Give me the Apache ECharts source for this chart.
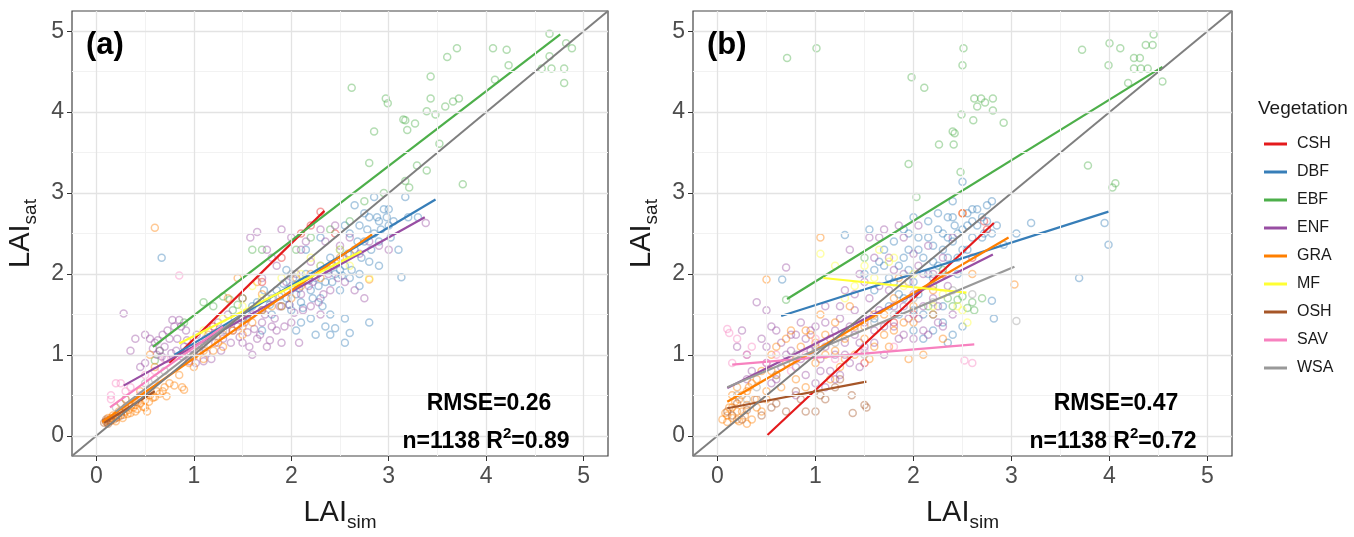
<!DOCTYPE html>
<html><head><meta charset="utf-8">
<script src="https://cdn.jsdelivr.net/npm/echarts@6/dist/echarts.min.js"></script>
<style>html,body{margin:0;padding:0;background:#fff}#c{width:1354px;height:537px}</style>
</head><body><div id="c"></div><script>
const categories = ['CSH','DBF','EBF','ENF','GRA','MF','OSH','SAV','WSA'];
const colors = ['#E41A1C','#377EB8','#4DAF4A','#984EA3','#FF7F00','#FFFF33','#A65628','#F781BF','#999999'];
const axisMin = -0.25, axisMax = 5.25;
const majorTicks = [0,1,2,3,4,5];
const minorTicks = [0.5,1.5,2.5,3.5,4.5];

// Panel (a) points
const a_CSH = [[2.3,2.77],[2.2,2.6],[1.9,2.2],[1.5,1.7],[1.2,1.35],[2.45,2.5],[1.7,1.9],[2.1,2.5]];
const a_DBF = [[0.67,2.2],[1.5,1.45],[1.6,1.6],[1.7,1.55],[1.75,1.7],[1.8,1.5],[1.85,1.8],[1.9,1.6],[1.95,1.7],[2.0,1.85],[2.0,1.55],[2.05,1.75],[2.1,1.9],[2.1,1.65],[2.15,2.0],[2.2,1.8],[2.2,1.45],[2.25,1.95],[2.25,1.25],[2.3,2.1],[2.3,1.7],[2.35,1.9],[2.4,2.2],[2.4,1.5],[2.45,2.0],[2.45,1.33],[2.5,2.3],[2.5,1.8],[2.55,2.1],[2.55,1.45],[2.6,2.5],[2.6,1.95],[2.6,1.27],[2.65,2.3],[2.7,2.6],[2.7,2.0],[2.75,2.75],[2.75,2.4],[2.8,2.7],[2.8,2.15],[2.8,1.4],[2.85,2.5],[2.9,2.65],[2.9,2.4],[2.95,2.8],[3.0,2.6],[3.0,2.8],[3.05,2.65],[3.13,1.96],[3.17,2.95],[3.2,2.7],[3.3,2.7],[2.85,2.95],[2.65,2.85],[2.55,2.6],[2.3,2.45],[2.15,2.3],[1.95,2.05],[2.35,1.35],[2.05,1.3],[2.1,1.4],[1.7,1.3],[2.5,2.05],[2.7,1.85],[2.9,2.1],[3.1,2.3],[1.55,1.5],[1.65,1.65],[1.72,1.8],[1.78,1.62],[1.88,1.72],[1.92,1.88],[1.98,1.62],[2.02,1.95],[2.08,1.82],[2.12,1.58],[2.18,1.92],[2.22,1.7],[2.28,1.85],[2.32,1.6],[2.38,2.05],[2.42,1.9],[2.48,2.15],[2.52,1.98],[2.58,2.25],[2.62,2.05],[2.68,2.4],[2.72,2.2],[2.78,2.55],[2.82,2.3],[2.88,2.7],[2.92,2.55],[2.98,2.7],[3.02,2.45],[2.4,1.25],[2.55,1.15]];
const a_EBF = [[4.65,4.97],[4.82,4.85],[4.88,4.79],[4.65,4.69],[4.57,4.54],[4.67,4.54],[4.8,4.54],[4.8,4.36],[4.07,4.79],[4.21,4.77],[3.7,4.79],[3.6,4.68],[4.23,4.58],[4.09,4.4],[3.43,4.44],[3.43,4.17],[3.58,4.07],[3.66,4.13],[3.72,4.17],[3.48,3.97],[3.39,4.01],[2.62,4.3],[2.97,4.17],[2.99,4.11],[3.15,3.91],[3.17,3.9],[3.19,3.78],[3.27,3.86],[2.85,3.76],[3.52,3.61],[3.29,3.34],[3.39,3.28],[2.8,3.37],[3.21,3.07],[3.76,3.11],[3.17,3.15],[0.6,0.93],[0.65,1.05],[0.9,1.4],[1.1,1.65],[1.2,1.6],[1.3,1.72],[1.37,1.68],[1.45,1.62],[1.5,1.7],[1.7,2.3],[1.6,2.3],[2.05,2.3],[2.2,2.45],[2.4,2.55],[2.6,2.65],[2.75,2.9],[1.4,1.55],[2.95,3.0]];
const a_ENF = [[0.28,1.51],[0.45,0.85],[0.5,0.9],[0.55,1.2],[0.6,1.15],[0.62,1.0],[0.65,1.05],[0.68,1.25],[0.7,1.1],[0.72,0.95],[0.75,1.2],[0.78,1.43],[0.8,1.35],[0.82,1.05],[0.85,1.43],[0.88,0.98],[0.9,1.1],[0.92,1.3],[0.95,0.92],[1.0,1.0],[1.02,0.9],[1.05,1.05],[1.1,0.92],[1.12,1.2],[1.15,1.3],[1.2,1.25],[1.25,1.4],[1.3,1.2],[1.35,1.5],[1.4,1.3],[1.45,1.35],[1.5,1.15],[1.55,1.28],[1.6,1.5],[1.65,1.2],[1.7,1.4],[1.75,1.1],[1.8,1.35],[1.85,1.3],[1.9,1.15],[1.6,1.0],[1.58,2.45],[1.65,2.52],[1.75,2.3],[1.9,2.55],[2.0,2.45],[2.1,2.3],[2.15,2.4],[2.2,2.15],[2.3,2.55],[2.35,2.4],[2.45,2.6],[2.5,2.35],[2.6,2.45],[2.7,2.25],[2.8,2.4],[2.9,2.35],[3.0,2.3],[3.38,2.63],[2.1,1.75],[2.2,1.6],[2.3,1.5],[2.4,1.8],[2.0,1.4],[1.95,1.9],[2.55,1.9],[2.65,1.8],[2.75,1.7],[2.05,2.0],[1.85,2.1],[1.8,2.2],[1.7,1.95],[0.4,1.2],[0.5,1.25],[0.35,1.05],[0.58,1.08],[0.63,1.18],[0.67,0.98],[0.73,1.3],[0.77,1.02],[0.83,1.2],[0.87,1.35],[0.93,1.18],[0.97,1.08],[1.03,1.25],[1.08,1.12],[1.13,1.02],[1.18,0.95],[1.22,1.15],[1.28,1.05],[1.33,1.3],[1.38,1.15],[1.42,1.45],[1.47,1.22],[1.52,1.4],[1.57,1.1],[1.62,1.32],[1.68,1.25],[1.73,1.5],[1.78,1.18],[1.83,1.45],[1.88,1.6],[1.93,1.35],[1.98,1.62],[2.03,1.52],[2.08,1.15],[2.12,1.55],[2.18,1.85],[2.22,1.9],[2.28,1.65],[2.33,1.75],[2.38,2.0],[2.43,2.1],[2.48,1.95],[2.53,2.2]];
const a_GRA = [[0.10,0.17],[0.12,0.19],[0.14,0.18],[0.15,0.22],[0.18,0.2],[0.2,0.25],[0.22,0.23],[0.25,0.28],[0.28,0.26],[0.3,0.3],[0.33,0.32],[0.35,0.28],[0.38,0.35],[0.4,0.38],[0.42,0.33],[0.45,0.4],[0.48,0.36],[0.5,0.44],[0.52,0.3],[0.55,0.5],[0.58,0.47],[0.62,0.55],[0.65,0.52],[0.7,0.6],[0.72,0.49],[0.8,0.62],[0.9,0.57],[0.88,0.6],[0.6,2.57],[0.95,0.9],[1.0,0.98],[1.05,1.1],[1.1,0.95],[1.2,1.05],[1.25,1.15],[1.3,1.1],[1.4,1.3],[1.5,1.25],[1.55,1.45],[1.6,1.4],[1.65,1.9],[1.7,1.55],[1.8,1.6],[1.9,1.75],[2.0,1.7],[2.1,1.85],[2.2,2.0],[2.3,1.95],[2.4,2.1],[2.5,2.2],[2.6,2.25],[2.8,1.93],[0.55,1.0],[0.6,0.85],[1.15,1.25],[1.45,1.95],[1.35,1.7],[0.25,0.4],[0.3,0.45],[0.45,0.55],[0.12,0.22],[0.17,0.25],[0.2,0.18],[0.23,0.3],[0.27,0.22],[0.32,0.27],[0.36,0.38],[0.4,0.3],[0.44,0.45],[0.5,0.35],[0.54,0.42],[0.6,0.48],[0.68,0.55],[0.75,0.65],[0.85,0.75],[1.0,0.85],[1.1,1.05],[1.3,1.25],[1.5,1.35],[1.7,1.75],[1.9,1.6],[2.05,1.95]];
const a_MF = [[1.3,1.45],[1.5,1.6],[1.7,1.7],[1.9,1.95],[2.1,2.0],[2.3,2.1],[2.5,2.3],[2.2,2.2],[1.1,1.3],[1.6,1.85],[2.8,1.95],[2.6,2.1]];
const a_OSH = [[0.08,0.16],[0.1,0.2],[0.12,0.15],[0.15,0.19],[0.1,0.18],[0.2,0.22],[0.25,0.25],[0.3,0.35],[0.4,0.42]];
const a_SAV = [[0.2,0.65],[0.25,0.65],[0.15,0.5],[0.3,0.55],[0.5,0.75],[0.85,1.98],[0.35,0.6],[0.6,0.8],[0.7,0.95],[0.45,0.5],[0.15,0.45]];
const a_WSA = [[0.3,0.45],[0.5,0.65],[0.7,0.8],[0.9,1.0],[1.1,1.1],[1.3,1.3],[1.5,1.45],[0.6,0.7],[0.2,0.35],[2.0,2.0],[1.8,1.7]];

// Panel (b) points
const b_CSH = [[2.5,2.75],[2.72,2.65],[1.8,1.4],[2.3,2.0],[2.6,2.2],[2.0,1.5],[2.75,2.55],[1.5,0.9]];
const b_DBF = [[0.66,1.93],[1.3,2.48],[1.5,2.0],[1.6,1.8],[1.65,2.15],[1.7,2.3],[1.75,1.95],[1.8,2.4],[1.85,2.1],[1.9,2.55],[1.9,1.7],[1.95,2.3],[2.0,2.7],[2.0,1.9],[2.05,2.45],[2.1,2.2],[2.1,1.5],[2.15,2.65],[2.2,2.35],[2.2,1.95],[2.25,2.75],[2.25,2.1],[2.3,2.5],[2.3,1.4],[2.35,2.7],[2.35,2.2],[2.4,2.9],[2.4,2.4],[2.42,2.6],[2.45,2.0],[2.5,3.14],[2.5,2.55],[2.55,2.75],[2.55,2.3],[2.6,2.8],[2.6,2.45],[2.65,2.6],[2.7,2.7],[2.72,2.5],[2.75,2.85],[2.8,2.9],[2.82,1.45],[2.8,1.67],[2.85,2.6],[2.92,2.36],[3.05,2.5],[3.2,2.63],[3.69,1.95],[3.99,2.36],[3.95,2.63],[1.6,1.45],[1.75,1.6],[2.0,1.3],[2.1,1.2],[2.2,1.3],[2.35,1.15],[1.85,1.5],[1.95,2.5],[2.15,2.0],[2.45,2.2],[1.55,2.55],[2.05,1.75],[1.6,2.05],[1.7,2.1],[1.8,1.9],[1.9,2.2],[1.95,2.05],[2.05,2.3],[2.15,2.45],[2.2,2.15],[2.25,2.55],[2.3,2.3],[2.35,2.45],[2.4,2.7],[2.45,2.5],[2.5,2.3],[2.55,2.6],[2.6,2.65],[2.65,2.8],[2.7,2.45],[2.75,2.65],[2.8,2.5],[2.3,1.6],[2.2,1.5],[2.5,1.35],[2.0,1.55],[2.4,1.25],[1.85,1.75]];
const b_EBF = [[0.71,4.67],[1.01,4.79],[2.51,4.79],[2.5,4.58],[1.98,4.43],[2.11,4.3],[2.62,4.17],[2.69,4.17],[2.73,4.12],[2.65,4.07],[2.81,4.17],[2.81,4.02],[2.61,3.9],[2.49,3.97],[2.92,3.87],[2.4,3.76],[2.42,3.74],[2.26,3.6],[2.41,3.6],[1.95,3.36],[2.48,3.26],[2.03,2.95],[3.72,4.77],[4.0,4.85],[4.11,4.79],[4.37,4.83],[4.44,4.83],[4.45,4.96],[4.25,4.67],[4.31,4.67],[4.25,4.54],[4.32,4.54],[4.39,4.54],[3.99,4.58],[4.19,4.36],[4.54,4.38],[3.78,3.34],[4.06,3.12],[4.03,3.07],[0.7,1.68],[2.4,1.6],[2.45,1.68],[2.5,1.72],[2.55,1.58],[2.6,1.65],[2.2,1.85],[2.3,2.05],[2.62,1.55],[2.35,1.7],[2.7,1.7],[1.5,2.2],[2.15,1.6]];
const b_ENF = [[0.2,1.1],[0.3,1.0],[0.35,0.8],[0.4,1.65],[0.45,1.2],[0.5,0.9],[0.55,1.35],[0.6,0.7],[0.65,1.15],[0.7,2.08],[0.7,1.0],[0.75,1.25],[0.8,0.85],[0.85,1.4],[0.9,0.75],[0.9,1.2],[0.95,1.05],[1.0,0.65],[1.0,1.35],[1.05,0.95],[1.1,1.6],[1.1,1.1],[1.15,0.8],[1.2,1.3],[1.2,1.0],[1.25,1.45],[1.3,1.15],[1.3,1.8],[1.35,0.9],[1.4,1.55],[1.4,1.25],[1.45,2.0],[1.5,1.4],[1.5,1.1],[1.55,1.7],[1.6,2.2],[1.6,1.3],[1.65,1.55],[1.7,2.55],[1.7,1.0],[1.75,1.8],[1.8,1.35],[1.8,2.05],[1.85,2.6],[1.9,1.25],[1.9,1.6],[1.95,1.9],[2.0,1.2],[2.0,2.25],[2.05,1.45],[2.1,2.0],[2.1,1.3],[2.15,2.35],[2.2,1.7],[2.25,1.4],[2.3,2.2],[2.35,1.85],[2.4,2.45],[0.55,0.65],[0.8,0.5],[1.25,0.75],[1.45,0.85],[1.1,0.6],[1.65,2.45],[1.9,2.45],[2.05,2.6],[0.5,1.55],[0.25,1.3],[0.3,0.7],[0.5,1.1],[0.6,1.3],[0.65,0.85],[0.75,1.05],[0.8,1.25],[0.85,0.95],[0.95,1.3],[1.0,1.1],[1.05,0.8],[1.1,1.4],[1.15,1.2],[1.2,0.7],[1.25,1.6],[1.3,1.0],[1.35,1.35],[1.4,1.75],[1.45,1.15],[1.5,1.9],[1.55,1.5],[1.6,1.15],[1.65,1.85],[1.7,1.35],[1.75,2.2],[1.8,1.6],[1.85,1.2],[1.9,2.0],[1.95,1.45],[2.0,1.75],[2.05,2.1],[2.1,1.6],[2.15,1.25],[2.2,2.0],[2.25,1.6],[2.3,1.35],[2.4,1.5],[1.35,2.3],[1.55,2.45]];
const b_GRA = [[0.05,0.2],[0.08,0.28],[0.1,0.17],[0.12,0.35],[0.15,0.22],[0.18,0.42],[0.2,0.3],[0.22,0.18],[0.25,0.5],[0.28,0.25],[0.3,0.38],[0.32,0.6],[0.35,0.2],[0.38,0.45],[0.4,0.7],[0.45,0.3],[0.5,1.93],[0.5,0.55],[0.55,0.8],[0.6,1.1],[0.65,0.6],[0.7,0.9],[0.75,1.3],[0.8,0.95],[0.85,1.1],[0.9,0.6],[0.95,1.25],[1.0,0.9],[1.05,2.45],[1.05,1.5],[1.1,1.0],[1.2,1.4],[1.25,0.85],[1.3,1.2],[1.35,1.6],[1.4,1.0],[1.5,1.35],[1.55,0.95],[1.6,1.5],[1.7,1.25],[1.75,1.1],[1.8,1.7],[1.9,1.4],[2.0,1.6],[2.1,1.0],[2.2,1.8],[2.3,1.2],[2.5,2.75],[2.6,2.0],[3.03,1.87],[0.15,0.5],[0.2,0.6],[0.3,0.15],[1.15,0.7],[1.95,0.95],[1.85,1.95],[0.1,0.25],[0.15,0.35],[0.2,0.2],[0.22,0.45],[0.25,0.3],[0.3,0.55],[0.35,0.65],[0.4,0.35],[0.45,0.8],[0.5,0.45],[0.55,1.0],[0.6,0.75],[0.7,1.2],[0.8,0.7],[0.9,1.3],[1.0,1.15],[1.1,1.25],[1.2,1.05],[1.3,0.95],[1.4,1.35],[1.5,1.2],[1.6,1.1],[1.7,1.5],[1.8,1.3],[2.0,1.4],[2.2,1.5]];
const b_MF = [[1.05,2.25],[1.2,2.1],[1.3,1.7],[1.5,2.1],[1.6,1.95],[1.75,2.15],[1.8,2.2],[1.9,1.85],[2.0,2.0],[2.2,1.6],[2.5,1.55],[2.55,1.4],[2.45,1.6],[1.4,1.85],[2.3,1.75],[1.65,2.3]];
const b_OSH = [[0.1,0.3],[0.15,0.25],[0.2,0.4],[0.25,0.2],[0.3,0.32],[0.4,0.45],[0.45,0.25],[0.55,0.35],[0.6,0.4],[0.7,0.3],[0.8,0.55],[0.9,0.3],[1.0,0.3],[1.05,0.5],[1.1,0.45],[1.2,0.6],[1.37,0.5],[1.38,0.28],[1.5,0.38],[1.52,0.35],[0.85,0.45],[1.25,0.7]];
const b_SAV = [[0.1,1.32],[0.12,1.27],[0.2,1.2],[0.3,1.0],[0.35,1.1],[0.5,0.9],[0.6,1.0],[0.75,0.8],[0.9,1.0],[1.2,0.95],[1.5,1.05],[1.8,1.1],[2.52,0.93],[2.6,0.9],[0.15,0.9],[1.0,1.2]];
const b_WSA = [[0.2,0.5],[0.4,0.6],[0.6,0.75],[0.8,1.0],[1.0,1.05],[1.2,1.15],[1.4,1.3],[1.6,1.4],[1.8,1.5],[2.0,1.7],[2.2,1.65],[2.4,1.8],[3.05,1.42],[2.6,1.75],[1.5,1.0],[0.3,0.45]];

// Fitted lines (start/end), in categories order
const fitA = [[[0.75,0.9],[2.34,2.78]],[[0.8,1.0],[3.48,2.92]],[[0.58,1.10],[4.76,4.96]],[[0.28,0.62],[3.37,2.70]],[[0.06,0.17],[2.83,2.49]],[[0.85,1.14],[2.72,2.28]],[[0.08,0.16],[0.6,0.55]],[[0.14,0.35],[1.3,1.35]],[[0.2,0.3],[1.6,1.6]]];
const fitB = [[[0.51,0.01],[2.82,2.63]],[[0.65,1.48],[3.99,2.77]],[[0.71,1.69],[4.54,4.56]],[[0.10,0.59],[2.81,2.24]],[[0.10,0.42],[2.97,2.45]],[[1.08,1.95],[2.54,1.77]],[[0.10,0.34],[1.52,0.67]],[[0.15,0.88],[2.62,1.13]],[[0.10,0.60],[3.03,2.09]]];

const ptsA = [a_CSH,a_DBF,a_EBF,a_ENF,a_GRA,a_MF,a_OSH,a_SAV,a_WSA];
const ptsB = [b_CSH,b_DBF,b_EBF,b_ENF,b_GRA,b_MF,b_OSH,b_SAV,b_WSA];

const FONT = 'Liberation Sans';
const chart = echarts.init(document.getElementById('c'), null, {renderer:'canvas'});

function axisCfg(isX, gi){
  return {
    type:'value', gridIndex:gi, min:axisMin, max:axisMax,
    splitLine:{show:false}, axisLine:{show:false, onZero:false},
    axisTick:{show:true, customValues:majorTicks, length:5, lineStyle:{color:'#333', width:1}},
    axisLabel:{customValues:majorTicks, fontSize:23, color:'#4D4D4D', fontFamily:FONT, margin:isX?9:8},
    name: isX ? '{m|LAI}{s|sim}' : '{m|LAI}{s|sat}',
    nameLocation:'middle', nameGap: isX?42:37, nameRotate: isX?0:90,
    nameTextStyle:{fontFamily:FONT, rich:{
      m:{fontSize:29, color:'#1a1a1a', fontFamily:FONT, lineHeight:29, verticalAlign:'middle'},
      s:{fontSize:19, color:'#1a1a1a', fontFamily:FONT, lineHeight:19, padding:[20,0,0,0], verticalAlign:'middle'}
    }}
  };
}

const series = [];
[0,1].forEach(gi=>{
  const gridLines = [];
  minorTicks.forEach(v=>{ gridLines.push({xAxis:v, lineStyle:{color:'#F2F2F2', width:1}}); gridLines.push({yAxis:v, lineStyle:{color:'#F2F2F2', width:1}}); });
  majorTicks.forEach(v=>{ gridLines.push({xAxis:v, lineStyle:{color:'#E3E3E3', width:1.3}}); gridLines.push({yAxis:v, lineStyle:{color:'#E3E3E3', width:1.3}}); });
  series.push({type:'line', xAxisIndex:gi, yAxisIndex:gi, data:[[axisMin,axisMin]], symbol:'none', lineStyle:{opacity:0}, z:1, silent:true,
    markLine:{silent:true, symbol:['none','none'], label:{show:false}, lineStyle:{type:'solid'}, data:gridLines, animation:false}});
  const pts = gi===0?ptsA:ptsB;
  const fits = gi===0?fitA:fitB;
  categories.forEach((c,i)=>{
    series.push({name:c, type:'line', xAxisIndex:gi, yAxisIndex:gi, data:fits[i], symbol:'none', z:3,
      lineStyle:{color:colors[i], width:2.2}, itemStyle:{color:colors[i]}});
  });
  categories.forEach((c,i)=>{
    series.push({name:c, type:'scatter', xAxisIndex:gi, yAxisIndex:gi, data:pts[i], symbol:'circle', symbolSize:7, z:2,
      itemStyle:{color:'rgba(0,0,0,0)', borderColor:colors[i], borderWidth:1.5, opacity:0.42}});
  });
  series.push({type:'line', xAxisIndex:gi, yAxisIndex:gi, data:[[axisMin,axisMin],[axisMax,axisMax]], symbol:'none', z:4, silent:true,
    lineStyle:{color:'#7F7F7F', width:2}});
});

const statRich = {
  b:{fontSize:23, fontWeight:'bold', fontFamily:FONT, color:'#000', lineHeight:24, verticalAlign:'middle'},
  sup:{fontSize:15, fontWeight:'bold', fontFamily:FONT, color:'#000', lineHeight:15, padding:[0,0,16,0], verticalAlign:'middle'}
};
function statTitle(text, cx, cy){
  return {text:text, left:cx, top:cy, textAlign:'center', textVerticalAlign:'middle', padding:0, itemGap:0,
    textStyle:{fontSize:23, fontWeight:'bold', fontFamily:FONT, color:'#000', rich:statRich}};
}
function panelTitle(text, lx, cy){
  return {text:text, left:lx, top:cy, textVerticalAlign:'middle', padding:0,
    textStyle:{fontSize:31, fontWeight:'bold', fontFamily:FONT, color:'#000'}};
}

chart.setOption({
  animation:false,
  backgroundColor:'#fff',
  title:[
    panelTitle('(a)', 86, 45),
    panelTitle('(b)', 707, 45),
    statTitle('{b|RMSE=0.26}', 489, 404),
    statTitle('{b|n=1138 R}{sup|2}{b|=0.89}', 486, 442),
    statTitle('{b|RMSE=0.47}', 1116, 404),
    statTitle('{b|n=1138 R}{sup|2}{b|=0.72}', 1113, 442),
    {text:'Vegetation', left:1258, top:109, textVerticalAlign:'middle', padding:0, textStyle:{fontSize:19, fontWeight:'normal', fontFamily:FONT, color:'#1a1a1a'}}
  ],
  grid:[
    {left:72, top:11, width:536, height:454, show:true, borderColor:'#444', borderWidth:1.2, backgroundColor:'#fff', containLabel:false},
    {left:693, top:11, width:539, height:454, show:true, borderColor:'#444', borderWidth:1.2, backgroundColor:'#fff', containLabel:false}
  ],
  xAxis:[axisCfg(true,0), axisCfg(true,1)],
  yAxis:[axisCfg(false,0), axisCfg(false,1)],
  legend:{orient:'vertical', left:1259, top:131, itemWidth:23, itemHeight:3, itemGap:12, icon:'rect',
    data:categories.map((c,i)=>({name:c, icon:'rect', itemStyle:{color:colors[i], borderWidth:0, opacity:1}})),
    selectedMode:false,
    textStyle:{fontSize:16, color:'#1a1a1a', fontFamily:FONT, padding:[0,0,0,5]}},
  series:series
});
</script></body></html>
